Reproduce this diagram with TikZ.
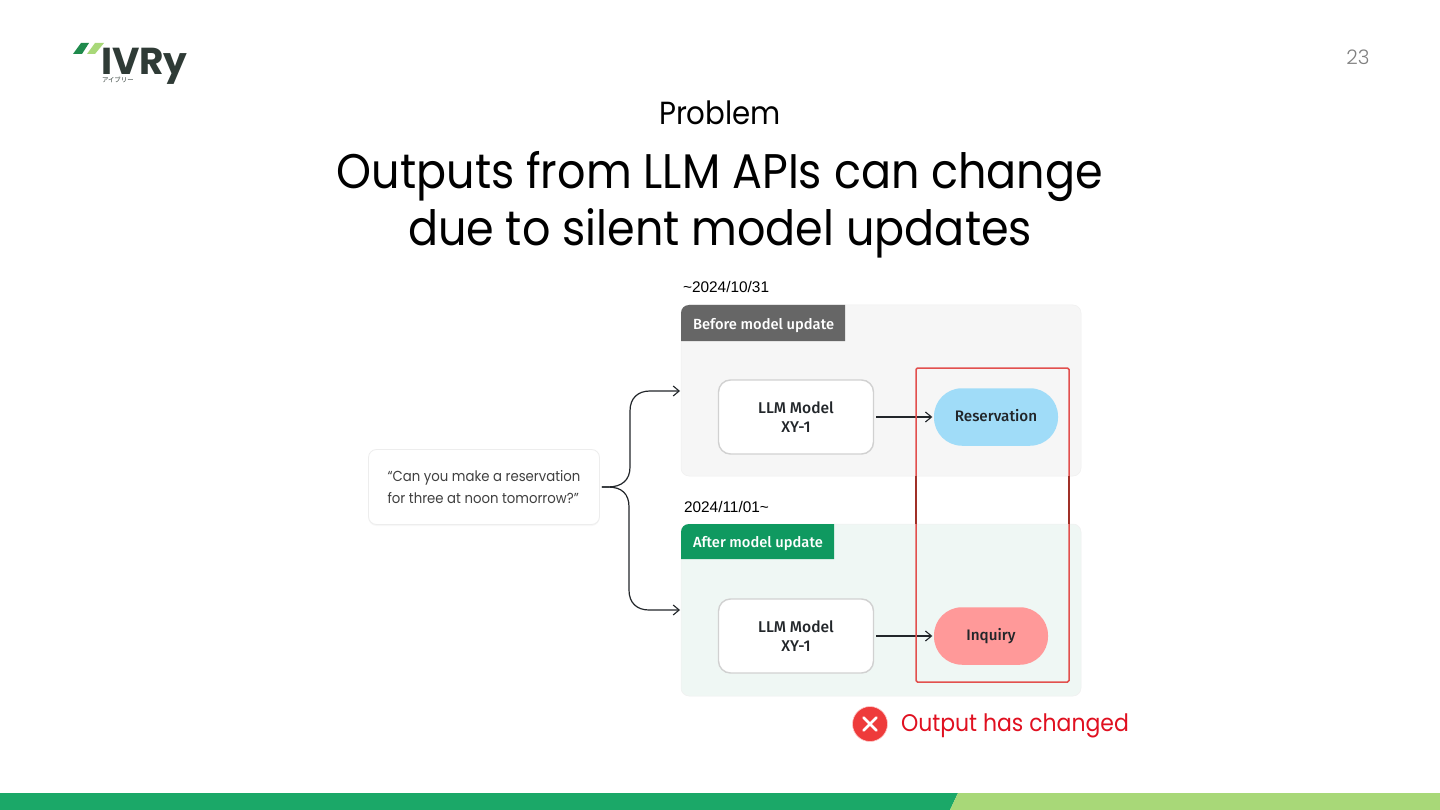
\documentclass[tikz,border=0pt]{standalone}
\usepackage{fontspec}
\setmainfont{Poppins}[FakeStretch=0.915]
\newfontfamily\pagefont{Poppins Light}
\newfontfamily\uifont{Fira Sans Medium}
\newfontfamily\datefont{Liberation Sans}
\newfontfamily\cjkfont{Noto Sans CJK JP}
\usetikzlibrary{arrows.meta,shadows}
\definecolor{barDark}{HTML}{1BA868}
\definecolor{barLight}{HTML}{A8D878}
\definecolor{logoDark}{HTML}{1F8A4C}
\definecolor{panelGray}{HTML}{F6F6F6}
\definecolor{panelGreen}{HTML}{EFF7F4}
\definecolor{headGray}{HTML}{666666}
\definecolor{headGreen}{HTML}{0F9960}
\definecolor{pillBlue}{HTML}{A0DCF8}
\definecolor{pillRed}{HTML}{FF9999}
\definecolor{frameRed}{HTML}{E2504E}
\definecolor{frameDark}{HTML}{A03028}
\definecolor{ink}{HTML}{22262A}
\definecolor{logoInk}{HTML}{2F3B36}
\definecolor{noteRed}{HTML}{E01020}
\definecolor{crossRed}{HTML}{EE3B3B}
\tikzset{
  x=1pt,y=-1pt,
  txt/.style={inner sep=0pt,outer sep=0pt,align=center},
  panel/.style={rounded corners=8pt,draw=black!6,line width=.5pt},
  modelbox/.style={draw=black!18,line width=1.4pt,fill=white,rounded corners=12pt,minimum width=155pt,minimum height=74pt,inner sep=0pt,align=center,font=\uifont\fontsize{15.6}{18.5}\selectfont,text=ink},
  pill/.style={rounded corners=28pt,minimum height=57.5pt,inner sep=0pt,text height=10.5pt,text depth=2.5pt,font=\uifont\fontsize{15.2}{18}\selectfont,text=ink},
  flow/.style={draw=ink,line width=1.2pt,-{Straight Barb[length=6pt,width=10pt,line width=1.1pt]}},
  headtxt/.style={txt,anchor=west,text=white,text height=10.5pt,text depth=3pt,font=\uifont\fontsize{14.7}{18}\selectfont},
  datetxt/.style={txt,anchor=west,text=black,font=\datefont\fontsize{15.4}{18}\selectfont},
}
\begin{document}
\begin{tikzpicture}
\useasboundingbox (0,0) rectangle (1440,810);
\fill[white] (0,0) rectangle (1440,810);
% bottom bar
\fill[barDark] (0,793) -- (958,793) -- (950,810) -- (0,810) -- cycle;
\fill[barLight] (958,793) -- (1440,793) -- (1440,810) -- (950,810) -- cycle;
% logo
\fill[logoDark] (73,54) -- (81,43) -- (89,43) -- (82,54) -- cycle;
\fill[barLight] (87,54) -- (95,43) -- (104,43) -- (95,54) -- cycle;
\node[txt,anchor=base west,text=logoInk,text depth=0pt,font=\fontspec{Poppins Bold}\fontsize{37.5}{38}\selectfont] (logo) at (101,75) {IVRy};
\node[txt,anchor=west,text=logoInk,font=\cjkfont\fontsize{6.4}{6}\selectfont] (logokana) at (102,79.5) {アイブリー};
% page number
\node[txt,text=black!50,font=\pagefont\fontsize{20}{20}\selectfont] (page) at (1358,57) {23};
% titles
\node[txt,text=black,font=\fontsize{32}{32}\selectfont] (kicker) at (720,112.5) {Problem};
\node[txt,text=black,font=\fontsize{48.6}{57}\selectfont] (title) at (720,205) {Outputs from LLM APIs can change\\due to silent model updates};
% question
\node[draw=black!7,line width=.8pt,fill=white,rounded corners=8pt,minimum width=231pt,minimum height=75pt,inner sep=0pt,align=left,text=black!75,drop shadow={opacity=.06,shadow xshift=0pt,shadow yshift=-1.5pt},font=\fontsize{14.5}{21.5}\selectfont] (q) at (484,487) {“Can you make a reservation\\for three at noon tomorrow?"};
% before panel
\node[datetxt] (d1) at (683,287) {\textasciitilde2024/10/31};
\draw[panel,fill=panelGray] (681,305) rectangle (1081,476);
\coordinate (p1) at (680,391);
\fill[headGray] (681,341) -- (681,313) arc[start angle=180,end angle=90,radius=8pt] -- (845,305) -- (845,341) -- cycle;
\node[headtxt] (h1) at (693,325.5) {Before model update};
\node[modelbox] (m1) at (796,417) {LLM Model\\XY-1};
\node[pill,fill=pillBlue,minimum width=124pt] (r1) at (996,417) {Reservation};
\draw[flow,shorten >=1.5pt] (m1.east) ++(2,0) coordinate (m1s) (m1s) -- (r1.west);
% after panel
\node[datetxt] (d2) at (684,507) {2024/11/01\textasciitilde};
\draw[panel,fill=panelGreen] (681,524) rectangle (1081,696);
\coordinate (p2) at (680,610);
\fill[headGreen] (681,559) -- (681,532) arc[start angle=180,end angle=90,radius=8pt] -- (834,524) -- (834,559) -- cycle;
\node[headtxt] (h2) at (693,543.5) {After model update};
\node[modelbox] (m2) at (796,636) {LLM Model\\XY-1};
\node[pill,fill=pillRed,minimum width=114pt] (r2) at (991,636) {Inquiry};
\draw[flow,shorten >=1.5pt] (m2.east) ++(2,0) coordinate (m2s) (m2s) -- (r2.west);
% bracket connectors
\draw[flow] (q.east) ++(2,0) coordinate (qs) (qs) -- ++(6,0) .. controls (622,487) and (630,480) .. (630,467) -- (630,411) .. controls (630,398) and (638,391) .. (650,391) -- (p1);
\draw[flow] (qs) -- ++(6,0) .. controls (622,487) and (629,494) .. (629,507) -- (629,590) .. controls (629,603) and (637,610) .. (649,610) -- (p2);
% red frame
\draw[frameRed,line width=1.5pt,rounded corners=1.5pt] (916,368) rectangle (1069,682);
\draw[frameDark,line width=1.5pt] (916,476) -- (916,524) (1069,476) -- (1069,524);
% output note
\node[circle,fill=crossRed,draw=red!20,line width=.6pt,minimum size=35pt,inner sep=0pt] (x) at (870,724) {};
\draw[white,line width=2.6pt,line cap=round] (863.5,717.5) -- (876.5,730.5) (876.5,717.5) -- (863.5,730.5);
\node[txt,anchor=west,text=noteRed,font=\fontsize{24}{26}\selectfont] (note) at (901,726) {Output has changed};
\end{tikzpicture}
\end{document}
